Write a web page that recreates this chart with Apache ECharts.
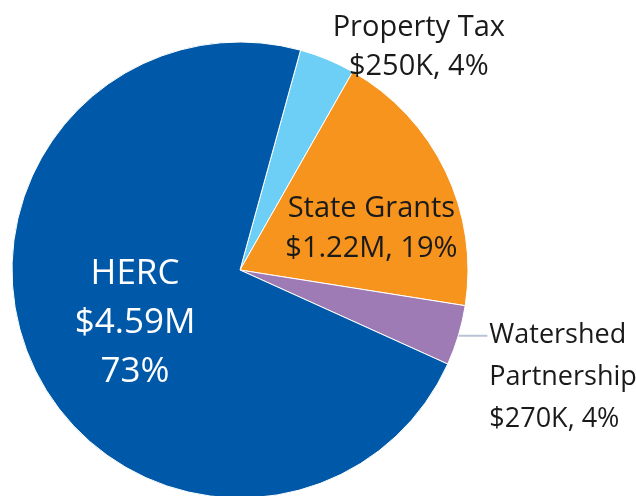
<!DOCTYPE html>
<html>
<head>
<meta charset="utf-8">
<script src="https://cdn.jsdelivr.net/npm/echarts@6/dist/echarts.min.js"></script>
<style>
  html, body { margin: 0; padding: 0; background: #fff; }
  #chart { width: 636px; height: 496px; }
</style>
</head>
<body>
<div id="chart"></div>
<script>
// 数据
const names = ['Property Tax', 'State Grants', 'Watershed\nPartnership', 'HERC']
const values = [250, 1220, 270, 4590]   // $K
const amounts = ['$250K', '$1.22M', '$270K', '$4.59M']
const percents = ['4%', '19%', '4%', '73%']
const colors = ['#6dcff6', '#f7941d', '#9e7bb5', '#0059a8']

const myChart = echarts.init(document.getElementById('chart'))

const font = '"Open Sans", sans-serif'

// 每块的标签样式
const labels = [
  { position: 'inside', offset: [134, -115], color: '#1a1a1a', fontSize: 29, lineHeight: 39,
    formatter: p => names[p.dataIndex] + '\n' + amounts[p.dataIndex] + ', ' + percents[p.dataIndex] },
  { position: 'inside', offset: [26, 9], color: '#1a1a1a', fontSize: 29, lineHeight: 40,
    formatter: p => names[p.dataIndex] + '\n' + amounts[p.dataIndex] + ', ' + percents[p.dataIndex] },
  // 两个空行把文字压到引线下面
  { position: 'outside', color: '#1a1a1a', fontSize: 27, lineHeight: 42, align: 'left',
    distanceToLabelLine: 2,
    formatter: p => '\n\n' + names[p.dataIndex] + '\n' + amounts[p.dataIndex] + ', ' + percents[p.dataIndex] },
  { position: 'inside', offset: [1, 3], color: '#ffffff', fontSize: 35, lineHeight: 49,
    formatter: p => names[p.dataIndex] + '\n' + amounts[p.dataIndex] + '\n' + percents[p.dataIndex] }
]

const option = {
  animation: false,
  series: [
    {
      type: 'pie',
      center: [240, 270],
      radius: 228,
      startAngle: 74.6,
      clockwise: true,
      avoidLabelOverlap: false,
      itemStyle: { borderColor: '#ffffff', borderWidth: 1 },
      label: { fontFamily: font },
      labelLine: { show: false },
      data: names.map((n, i) => ({
        name: n,
        value: values[i],
        itemStyle: { color: colors[i] },
        label: Object.assign({ show: true, fontFamily: font }, labels[i]),
        labelLine: i === 2
          ? { show: true, length: 1, length2: 28, lineStyle: { color: '#b8c4d4', width: 2 } }
          : { show: false }
      }))
    }
  ]
}

myChart.setOption(option)
</script>
</body>
</html>
